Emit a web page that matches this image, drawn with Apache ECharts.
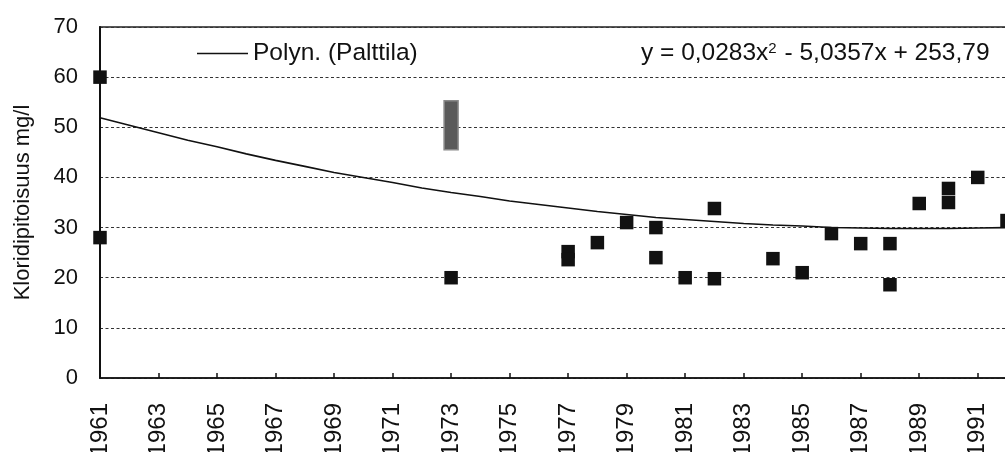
<!DOCTYPE html>
<html>
<head>
<meta charset="utf-8">
<script src="https://cdn.jsdelivr.net/npm/echarts@6/dist/echarts.min.js"></script>
<style>
html,body{margin:0;padding:0;background:#fff;}
#chart{width:1005px;height:452px;}
</style>
</head>
<body>
<div id="chart"></div>
<script>
// Category (year) labels
const years = ['1961','1962','1963','1964','1965','1966','1967','1968','1969','1970',
  '1971','1972','1973','1974','1975','1976','1977','1978','1979','1980',
  '1981','1982','1983','1984','1985','1986','1987','1988','1989','1990','1991','1992'];

// Observed chloride values (mg/l)
const obsYears  = ['1961','1961','1973','1977','1977','1978','1979','1980','1980','1981','1982','1982',
  '1984','1985','1986','1987','1988','1988','1989','1990','1990','1991','1992'];
const obsValues = [60, 28, 20, 25.2, 23.6, 27, 31, 30, 24, 20, 33.8, 19.8,
  23.8, 21, 28.8, 26.8, 26.8, 18.6, 34.8, 37.8, 35, 40, 31.4];

// Range bar (1973)
const rangeYear = '1973';
const rangeLow = 45.5;
const rangeHigh = 55.3;

// Trend line values read per year
const trendValues = [51.9, 50.4, 48.9, 47.4, 46.1, 44.7, 43.4, 42.2, 41.0, 40.0,
  39.0, 37.9, 37.0, 36.2, 35.3, 34.6, 33.9, 33.2, 32.6, 32.0,
  31.6, 31.2, 30.8, 30.5, 30.3, 30.0, 29.9, 29.8, 29.8, 29.8, 29.9, 30.0];

const trendName = 'Polyn. (Palttila)';
const yAxisName = 'Kloridipitoisuus mg/l';

const FONT = '"Liberation Sans", Arial, Helvetica, sans-serif';

const chart = echarts.init(document.getElementById('chart'));
chart.setOption({
  animation: false,
  backgroundColor: '#fff',
  textStyle: { fontFamily: FONT },
  grid: {
    left: 100, top: 27, right: -2, bottom: 74,
    containLabel: false, outerBoundsMode: 'none',
    show: true, borderColor: '#222', borderWidth: 1.5, backgroundColor: 'transparent'
  },
  legend: {
    left: 192, top: 36,
    itemWidth: 51, itemHeight: 1.5, itemGap: 10,
    icon: 'rect',
    textStyle: { fontFamily: FONT, fontSize: 24.5, color: '#111' },
    data: [{ name: trendName, itemStyle: { color: '#111' } }]
  },
  graphic: [{
    type: 'text', left: 641, top: 41, z: 100,
    style: {
      text: '{a|y = 0,0283x}{s|2}{a| - 5,0357x + 253,79}',
      rich: {
        a: { fontFamily: FONT, fontSize: 24.5, fill: '#111', color: '#111' },
        s: { fontFamily: FONT, fontSize: 15, fill: '#111', color: '#111', verticalAlign: 'top', padding: [0, 1, 9, 0] }
      }
    }
  }],
  xAxis: {
    type: 'category',
    data: years,
    boundaryGap: false,
    axisLine: { lineStyle: { color: '#111', width: 1.5 } },
    axisTick: { show: true, inside: true, length: 5, interval: 1, lineStyle: { color: '#111', width: 1.5 } },
    axisLabel: { interval: 1, rotate: 90, margin: 25, fontSize: 24, color: '#111', fontFamily: FONT },
    splitLine: { show: false }
  },
  yAxis: {
    type: 'value', min: 0, max: 70, interval: 10,
    name: yAxisName, nameLocation: 'middle', nameGap: 66, nameRotate: 90,
    nameTextStyle: { fontSize: 22, color: '#111', fontFamily: FONT },
    axisLine: { show: true, lineStyle: { color: '#111', width: 2 } },
    axisTick: { show: false },
    axisLabel: { margin: 22, fontSize: 22, color: '#111', fontFamily: FONT },
    splitLine: { show: true, lineStyle: { color: '#333', width: 1, type: [3, 2.5] } }
  },
  series: [
    {
      name: trendName, type: 'line', data: trendValues,
      symbol: 'none', lineStyle: { color: '#111', width: 1.6 }, itemStyle: { color: '#111' },
      z: 3, silent: true
    },
    {
      name: 'range', type: 'custom', z: 4,
      data: [[rangeYear, rangeLow, rangeHigh]],
      renderItem: function (params, api) {
        const idx = years.indexOf(rangeYear);
        const top = api.coord([idx, api.value(2)]);
        const bot = api.coord([idx, api.value(1)]);
        const w = 14;
        return {
          type: 'rect',
          shape: { x: top[0] - w / 2, y: top[1], width: w, height: bot[1] - top[1] },
          style: { fill: '#5a5a5a', stroke: '#8a8a8a', lineWidth: 1.5 }
        };
      }
    },
    {
      name: 'obs', type: 'scatter',
      data: obsYears.map((y, i) => [y, obsValues[i]]),
      symbol: 'rect', symbolSize: 13.5,
      itemStyle: { color: '#111', opacity: 1 }, z: 5
    }
  ]
});
</script>
</body>
</html>
